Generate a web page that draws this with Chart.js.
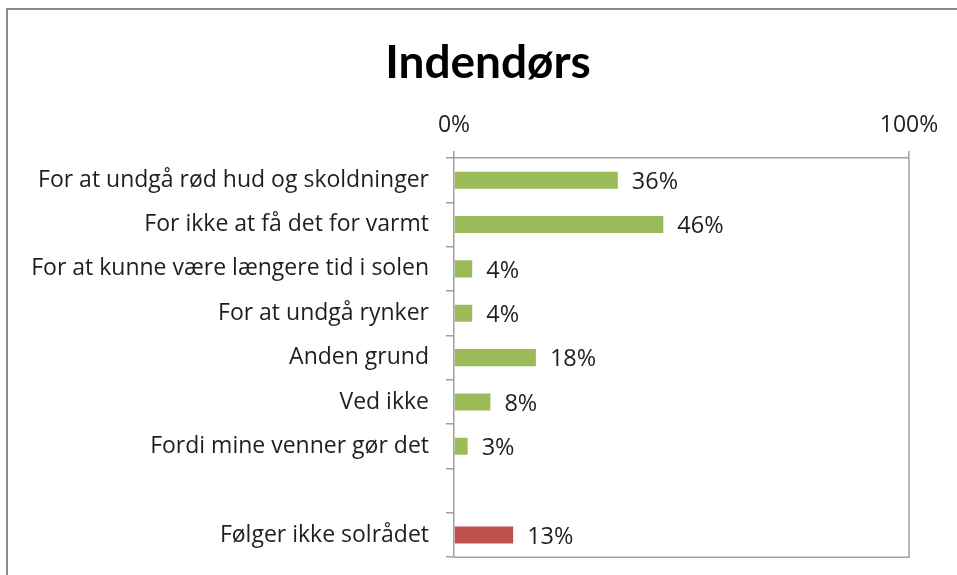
<!DOCTYPE html>
<html>
<head>
<meta charset="utf-8">
<script src="https://cdn.jsdelivr.net/npm/chart.js@4.4.0/dist/chart.umd.min.js"></script>
<style>
    html, body { margin: 0; padding: 0; background: #fff; }
    #wrap { position: relative; width: 957px; height: 575px; overflow: hidden; }
    #frame { position: absolute; left: 6px; top: 8px; width: 1200px; height: 900px; border: 2px solid #8a8a8a; box-sizing: border-box; }
    canvas { position: absolute; left: 0; top: 0; }
</style>
</head>
<body>
<div id="wrap">
    <div id="frame"></div>
    <canvas id="chart" width="957" height="588"></canvas>
</div>
<script>
// --- DATA ---
const categories = [
    "For at undgå rød hud og skoldninger",
    "For ikke at få det for varmt",
    "For at kunne være længere tid i solen",
    "For at undgå rynker",
    "Anden grund",
    "Ved ikke",
    "Fordi mine venner gør det",
    "",
    "Følger ikke solrådet"
];
const shares = [36, 46, 4, 4, 18, 8, 3, null, 13];
const axisTicks = [0, 100];
const chartTitle = "Indendørs";

const GREEN = '#9BBB59';
const RED = '#C0504D';
const FONT = '"Open Sans", "Noto Sans", sans-serif';
const TEXT = '#1f1f1f';

// --- PLUGINS ---
// title drawn by hand so it can sit off-centre like the original
const titleText = {
    id: 'titleText',
    afterDraw(chart) {
        const ctx = chart.ctx;
        ctx.save();
        ctx.font = 'bold 46px Lato, sans-serif';
        ctx.fillStyle = '#000';
        ctx.textAlign = 'center';
        ctx.textBaseline = 'alphabetic';
        ctx.fillText(chartTitle, 488, 78);
        ctx.restore();
    }
};

const plotBox = {
    id: 'plotBox',
    afterDraw(chart) {
        const a = chart.chartArea, ctx = chart.ctx;
        ctx.save();
        ctx.strokeStyle = '#a0a0a0';
        ctx.lineWidth = 1.5;
        ctx.beginPath();
        ctx.moveTo(a.left, a.bottom);
        ctx.lineTo(a.right, a.bottom);
        ctx.lineTo(a.right, a.top);
        ctx.stroke();
        ctx.restore();
    }
};

const valueLabels = {
    id: 'valueLabels',
    afterDatasetsDraw(chart) {
        const ctx = chart.ctx;
        const meta = chart.getDatasetMeta(0);
        ctx.save();
        ctx.font = '23.5px ' + FONT;
        ctx.fillStyle = TEXT;
        ctx.textAlign = 'left';
        ctx.textBaseline = 'middle';
        meta.data.forEach((bar, i) => {
            const v = shares[i];
            if (v === null) return;
            ctx.fillText(v + '%', bar.x + 14, bar.y + 2);
        });
        ctx.restore();
    }
};

new Chart(document.getElementById('chart'), {
    type: 'bar',
    data: {
        labels: categories,
        datasets: [{
            data: shares,
            backgroundColor: ctx => categories[ctx.dataIndex] === "Følger ikke solrådet" ? RED : GREEN,
            barPercentage: 0.385,
            categoryPercentage: 1
        }]
    },
    options: {
        indexAxis: 'y',
        responsive: false,
        animation: false,
        layout: { padding: { top: 92, right: 48, bottom: 0, left: 0 } },
        plugins: {
            legend: { display: false },
            tooltip: { enabled: false },
            title: { display: false }
        },
        scales: {
            x: {
                position: 'top',
                min: 0, max: 100,
                afterFit: s => { s.height = 158 - 92; },
                afterBuildTicks: s => { s.ticks = axisTicks.map(v => ({ value: v })); },
                ticks: {
                    callback: v => v + '%',
                    color: TEXT,
                    font: { family: FONT, size: 23 },
                    padding: 12,
                    maxRotation: 0
                },
                grid: { drawOnChartArea: false, tickLength: 7, color: '#a0a0a0', lineWidth: 1.5 },
                border: { display: true, color: '#a0a0a0', width: 1.5 }
            },
            y: {
                afterFit: s => { s.width = 454; },
                ticks: {
                    color: TEXT,
                    font: { family: FONT, size: 23 },
                    padding: 17,
                    autoSkip: false
                },
                grid: { offset: true, drawOnChartArea: false, tickLength: 8, color: '#a0a0a0', lineWidth: 1.5 },
                border: { display: true, color: '#a0a0a0', width: 1.5 }
            }
        }
    },
    plugins: [titleText, plotBox, valueLabels]
});
</script>
</body>
</html>
